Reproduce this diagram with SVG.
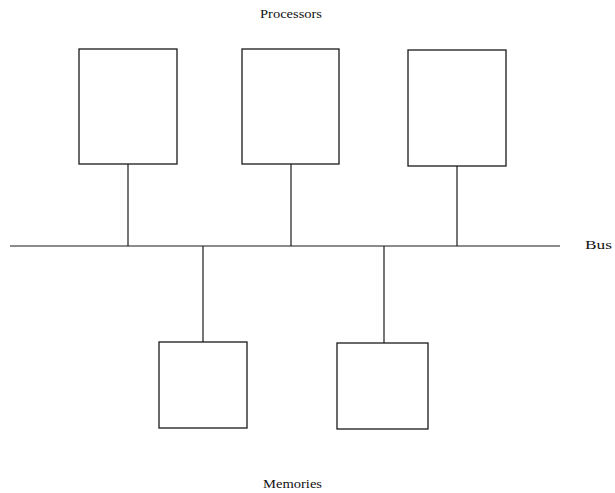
<svg xmlns="http://www.w3.org/2000/svg" width="615" height="493" viewBox="0 0 615 493">
  <style>
    .box { fill: #ffffff; stroke: #1a1a1a; stroke-width: 1.3; }
    .wire { stroke: #1a1a1a; stroke-width: 1.2; fill: none; }
    .label { font-family: "Liberation Serif", "Times New Roman", serif; font-size: 12px; fill: #111111; }
  </style>
  <rect width="615" height="493" fill="#ffffff"/>

  <!-- bus and the stubs joining each unit to it -->
  <g id="connectors">
    <line class="wire" x1="10" y1="246" x2="560" y2="246"/>
    <line class="wire" x1="128" y1="164" x2="128" y2="246"/>
    <line class="wire" x1="291" y1="164" x2="291" y2="246"/>
    <line class="wire" x1="457" y1="166" x2="457" y2="246"/>
    <line class="wire" x1="203" y1="246" x2="203" y2="342"/>
    <line class="wire" x1="384" y1="246" x2="384" y2="343"/>
  </g>

  <!-- processors -->
  <g id="processor-1"><rect class="box" x="79" y="49" width="98" height="115"/></g>
  <g id="processor-2"><rect class="box" x="242" y="49" width="97" height="115"/></g>
  <g id="processor-3"><rect class="box" x="408" y="50" width="98" height="116"/></g>

  <!-- memories -->
  <g id="memory-1"><rect class="box" x="159" y="342" width="88" height="86"/></g>
  <g id="memory-2"><rect class="box" x="337" y="343" width="91" height="86"/></g>

  <!-- labels -->
  <g id="labels">
    <text class="label" x="260" y="18" textLength="62" lengthAdjust="spacingAndGlyphs">Processors</text>
    <text class="label" x="585" y="249" textLength="27" lengthAdjust="spacingAndGlyphs">Bus</text>
    <text class="label" x="263" y="488" textLength="59" lengthAdjust="spacingAndGlyphs">Memories</text>
  </g>
</svg>
